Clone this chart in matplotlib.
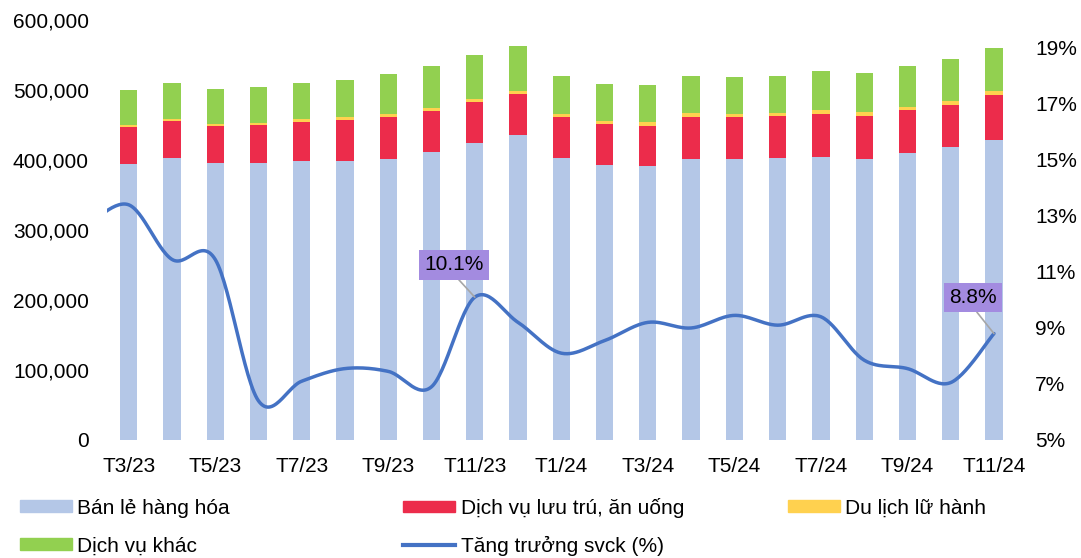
import numpy as np
import matplotlib
matplotlib.use("Agg")
import matplotlib.pyplot as plt
from matplotlib.patches import Patch
from matplotlib.lines import Line2D

plt.rcParams["font.family"] = ["Liberation Sans", "DejaVu Sans"]

# Months T3/23 .. T11/24
months = ["T3/23", "T4/23", "T5/23", "T6/23", "T7/23", "T8/23", "T9/23", "T10/23",
          "T11/23", "T12/23", "T1/24", "T2/24", "T3/24", "T4/24", "T5/24", "T6/24",
          "T7/24", "T8/24", "T9/24", "T10/24", "T11/24"]

# stacked components (ty dong)
ban_le = [394300, 402400, 395300, 396200, 398100, 398600, 400900, 411400, 424700, 435700,
          403300, 392400, 391400, 400900, 400900, 402400, 404300, 400900, 409500, 418100, 428600]
luu_tru = [53300, 53300, 52800, 53800, 56700, 58500, 61000, 59100, 58600, 59100,
           58600, 59500, 57600, 61000, 60100, 60500, 61900, 62400, 61500, 60900, 63800]
du_lich = [2000, 2900, 2900, 2900, 3800, 4300, 3800, 4300, 3800, 3800,
           3800, 4300, 5300, 5700, 5200, 4700, 5700, 5300, 5200, 5300, 5700]
dv_khac = [50400, 50900, 50400, 51400, 51400, 52400, 57200, 59500, 62900, 64700,
           53800, 51900, 52800, 52400, 51800, 52900, 54800, 56100, 57600, 59500, 61900]

# yoy growth (%), first value is T2/23 (outside the visible range)
growth_prev = 12.6
growth = [13.4, 11.45, 11.45, 6.4, 7.1, 7.55, 7.45, 6.9, 10.1, 9.2,
          8.1, 8.55, 9.2, 9.0, 9.45, 9.1, 9.4, 7.85, 7.55, 7.05, 8.8]

c_blue = "#B4C7E7"
c_red = "#EC2C4B"
c_yellow = "#FFD14F"
c_green = "#92D050"
c_line = "#4472C4"
c_box = "#A38BE0"


def smooth(xs, ys, n=30):
    # bezier smoothing like a spreadsheet "smoothed line"
    xs = np.asarray(xs, float)
    ys = np.asarray(ys, float)
    pts = np.column_stack([xs, ys])
    out = []
    for i in range(len(pts) - 1):
        p0 = pts[i - 1] if i > 0 else pts[i]
        p1 = pts[i]
        p2 = pts[i + 1]
        p3 = pts[i + 2] if i + 2 < len(pts) else pts[i + 1]
        c1 = p1 + (p2 - p0) / 6
        c2 = p2 - (p3 - p1) / 6
        t = np.linspace(0, 1, n)[:, None]
        seg = (1 - t) ** 3 * p1 + 3 * (1 - t) ** 2 * t * c1 + 3 * (1 - t) * t ** 2 * c2 + t ** 3 * p2
        out.append(seg if i == 0 else seg[1:])
    out = np.vstack(out)
    return out[:, 0], out[:, 1]


x = np.arange(len(months))
fig = plt.figure(figsize=(10.81, 5.58), dpi=100)
ax = fig.add_axes([0.099, 0.2115, 0.8405, 0.7527])

w = 0.4
b1 = np.array(ban_le)
b2 = b1 + np.array(luu_tru)
b3 = b2 + np.array(du_lich)
ax.bar(x, ban_le, w, color=c_blue, zorder=2)
ax.bar(x, luu_tru, w, bottom=b1, color=c_red, zorder=2)
ax.bar(x, du_lich, w, bottom=b2, color=c_yellow, zorder=2)
ax.bar(x, dv_khac, w, bottom=b3, color=c_green, zorder=2)

ax.set_xlim(-0.5, len(months) - 0.5)
ax.set_ylim(0, 600000)
ax.set_yticks(np.arange(0, 600001, 100000))
ax.set_yticklabels([f"{v:,}" for v in range(0, 600001, 100000)])
ax.set_xticks(x[::2])
ax.set_xticklabels(months[::2])
ax.tick_params(axis="y", length=0, pad=13, labelsize=15)
ax.tick_params(axis="x", length=0, pad=12, labelsize=15)
for s in ax.spines.values():
    s.set_visible(False)

ax2 = ax.twinx()
lx, ly = smooth(np.arange(-1, len(months)), [growth_prev] + growth)
ax2.plot(lx, ly, color=c_line, lw=2.5, solid_capstyle="round", zorder=3)
ax2.set_ylim(5, 20)
ax2.set_yticks(np.arange(5, 20, 2))
ax2.set_yticklabels([f"{v}%" for v in range(5, 20, 2)])
ax2.tick_params(axis="y", length=0, pad=14, labelsize=15)
ax2.set_xlim(-0.5, len(months) - 0.5)
for s in ax2.spines.values():
    s.set_visible(False)

# labels for T11/23 and T11/24
for i, tx, ty in [(8, 7.52, 11.25), (20, 19.51, 10.09)]:
    ax2.annotate(f"{growth[i]:.1f}%", xy=(i, growth[i]), xytext=(tx, ty),
                 ha="center", va="center", fontsize=15,
                 bbox=dict(boxstyle="square,pad=0.25", fc=c_box, ec="none"),
                 arrowprops=dict(arrowstyle="-", color="#A6A6A6", lw=1.2,
                                 shrinkA=0, shrinkB=0, relpos=(0.5, 0)),
                 zorder=5)

entries = [
    (Patch(color=c_blue), "Bán lẻ hàng hóa", 0.0185, 0.0896),
    (Patch(color=c_red), "Dịch vụ lưu trú, ăn uống", 0.3730, 0.0896),
    (Patch(color=c_yellow), "Du lịch lữ hành", 0.7290, 0.0896),
    (Patch(color=c_green), "Dịch vụ khác", 0.0185, 0.0215),
    (Line2D([], [], color=c_line, lw=3), "Tăng trưởng svck (%)", 0.3730, 0.0215),
]
for h, lab, lx0, ly0 in entries:
    fig.legend([h], [lab], loc="center left", bbox_to_anchor=(lx0, ly0),
               frameon=False, fontsize=15, handlelength=2.48, handleheight=0.48,
               handletextpad=0.27, borderaxespad=0, borderpad=0)

fig.savefig("out.png", dpi=100)
